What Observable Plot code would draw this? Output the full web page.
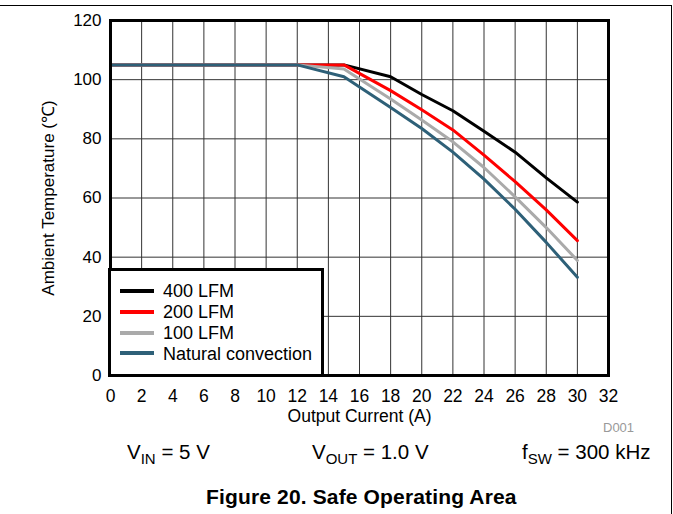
<!DOCTYPE html>
<html>
<head>
<meta charset="utf-8">
<script src="https://cdn.jsdelivr.net/npm/d3@7"></script>
<script src="https://cdn.jsdelivr.net/npm/@observablehq/plot@0.6"></script>
<style>
  html, body { margin: 0; padding: 0; background: #fff; }
  body { width: 673px; height: 514px; position: relative; overflow: hidden; font-family: "Liberation Sans", Arial, sans-serif; color: #000; }
  #border { position: absolute; left: 0; top: 5px; width: 671px; height: 520px; border-top: 1px solid #000; border-right: 1px solid #000; }
  #chart { position: absolute; left: 0; top: 0; }
  #legend { position: absolute; left: 108px; top: 268px; width: 216px; height: 109px; box-sizing: border-box; border: 3px solid #000; background: #fff; padding-top: 10.3px; font-size: 18px; }
  .row { height: 20.8px; line-height: 20.8px; white-space: nowrap; }
  .sw { display: inline-block; width: 34px; height: 4px; margin-left: 9px; margin-right: 9px; vertical-align: middle; position: relative; top: -1.5px; }
  .note { position: absolute; font-size: 20.5px; line-height: 20px; white-space: nowrap; }
  .note sub { font-size: 15px; vertical-align: -5px; line-height: 0; }
  #title { position: absolute; left: 206px; top: 486px; font-size: 21px; line-height: 21px; font-weight: bold; letter-spacing: 0.15px; white-space: nowrap; }
  #code { position: absolute; left: 603px; top: 421px; font-size: 13px; line-height: 13px; color: #999; }
</style>
</head>
<body>
<div id="border"></div>
<div id="chart"></div>
<div id="legend"></div>
<div class="note" style="left:127px; top:442px;">V<sub>IN</sub> = 5 V</div>
<div class="note" style="left:312px; top:442px;">V<sub>OUT</sub> = 1.0 V</div>
<div class="note" style="left:522px; top:442px;">f<sub>SW</sub> = 300 kHz</div>
<div id="code">D001</div>
<div id="title">Figure 20. Safe Operating Area</div>
<script>
// Output current (A)
const current = [0, 12, 15, 18, 20, 22, 24, 26, 28, 30];
// Ambient temperature (°C) per airflow
const lfm400 = [105, 105, 105, 101, 95, 89.5, 82.6, 75.5, 66.8, 58.6];
const lfm200 = [105, 105, 105, 96.3, 89.8, 83, 74.5, 65.5, 56, 45.6];
const lfm100 = [105, 105, 103.6, 93.5, 86.4, 79, 70.3, 60.4, 50, 38.9];
const natural = [105, 105, 101, 90.6, 83.5, 75.5, 66.4, 56.2, 45, 33.2];

const seriesNames = ["400 LFM", "200 LFM", "100 LFM", "Natural convection"];
const seriesColors = ["#000000", "#ff0000", "#aaaaaa", "#2e6078"];
const seriesValues = [lfm400, lfm200, lfm100, natural];

const xTicks = [0, 2, 4, 6, 8, 10, 12, 14, 16, 18, 20, 22, 24, 26, 28, 30, 32];
const yTicks = [0, 20, 40, 60, 80, 100, 120];

const rows = [];
seriesValues.forEach((vals, i) => {
  vals.forEach((t, j) => rows.push({ series: seriesNames[i], current: current[j], temp: t }));
});

const chart = Plot.plot({
  width: 673,
  height: 440,
  marginLeft: 110,
  marginRight: 65,
  marginTop: 20,
  marginBottom: 65,
  style: { fontFamily: "'Liberation Sans', Arial, sans-serif", fontSize: "17.5px", color: "#000", background: "transparent", overflow: "visible" },
  x: { domain: [0, 32] },
  y: { domain: [0, 120] },
  color: { domain: seriesNames, range: seriesColors },
  marks: [
    Plot.gridX(xTicks, { stroke: "#333", strokeOpacity: 1, strokeWidth: 1 }),
    Plot.gridY(yTicks, { stroke: "#333", strokeOpacity: 1, strokeWidth: 1 }),
    Plot.line(rows, { x: "current", y: "temp", z: "series", stroke: "series", strokeWidth: 3, strokeLinejoin: "round" }),
    Plot.frame({ stroke: "#000", strokeWidth: 3 }),
    Plot.axisX(xTicks, { tickSize: 0, tickPadding: 14, fontSize: 17.5, label: "Output Current (A)", labelAnchor: "center", labelArrow: "none", labelOffset: 46, tickFormat: d => String(d) }),
    Plot.axisY(yTicks, { tickSize: 0, tickPadding: 9, fontSize: 17, label: "Ambient Temperature (℃)", labelAnchor: "center", labelOffset: 69, labelArrow: "none", tickFormat: d => String(d) })
  ]
});
document.getElementById("chart").appendChild(chart);

const legend = document.getElementById("legend");
seriesNames.forEach((name, i) => {
  const row = document.createElement("div");
  row.className = "row";
  const sw = document.createElement("span");
  sw.className = "sw";
  sw.style.background = seriesColors[i];
  row.appendChild(sw);
  row.appendChild(document.createTextNode(name));
  legend.appendChild(row);
});
</script>
</body>
</html>
